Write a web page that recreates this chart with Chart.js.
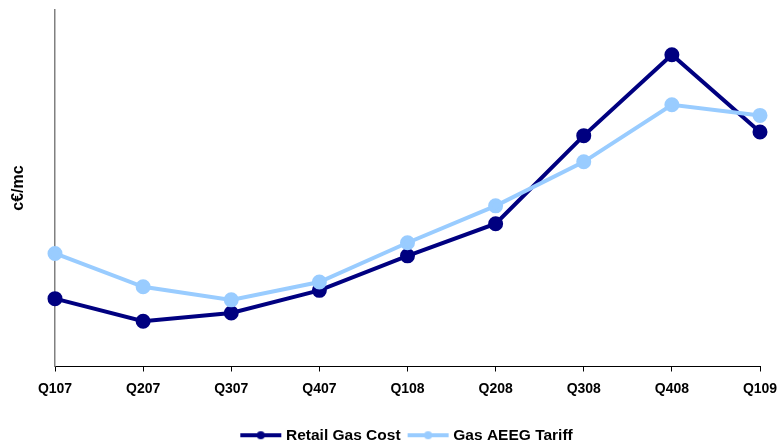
<!DOCTYPE html>
<html>
<head>
<meta charset="utf-8">
<script src="https://cdn.jsdelivr.net/npm/chart.js@4/dist/chart.umd.min.js"></script>
<style>
  html, body { margin: 0; padding: 0; background: #fff; }
  #wrap { width: 780px; height: 443px; }
</style>
</head>
<body>
<div id="wrap"><canvas id="c" width="780" height="443"></canvas></div>
<script>
// Quarterly gas prices, c€/mc
const quarters = ['Q107', 'Q207', 'Q307', 'Q407', 'Q108', 'Q208', 'Q308', 'Q408', 'Q109'];
const retailGasCost = [60.7, 58.8, 59.5, 61.4, 64.3, 67.0, 74.4, 81.2, 74.7];
const gasAeegTariff = [64.5, 61.7, 60.6, 62.1, 65.4, 68.5, 72.2, 77.0, 76.1];
const yMin = 55;
const yMax = 85;

const NAVY = '#000080';
const LIGHT = '#99CCFF';
const FONT = "'Liberation Sans', Arial, sans-serif";

// Legend swatch: a short line with a dot in the middle
function swatch(color) {
  const cv = document.createElement('canvas');
  cv.width = 50; cv.height = 12;
  const g = cv.getContext('2d');
  g.strokeStyle = color; g.lineWidth = 4; g.lineCap = 'butt';
  g.beginPath(); g.moveTo(5, 6); g.lineTo(46, 6); g.stroke();
  g.fillStyle = color;
  g.beginPath(); g.arc(25.5, 6, 4, 0, Math.PI * 2); g.fill();
  return cv;
}
const swatches = [swatch(NAVY), swatch(LIGHT)];

// Center the legend under the plot area rather than the whole canvas
const legendUnderPlot = {
  id: 'legendUnderPlot',
  afterLayout(chart) {
    const lg = chart.legend, ca = chart.chartArea;
    if (!lg || !ca) return;
    lg.left = ca.left;
    lg.right = ca.right;
    lg.width = ca.right - ca.left;
  }
};

new Chart(document.getElementById('c'), {
  type: 'line',
  data: {
    labels: quarters,
    datasets: [
      {
        label: 'Retail Gas Cost',
        data: retailGasCost,
        borderColor: NAVY, backgroundColor: NAVY,
        pointBackgroundColor: NAVY, pointBorderColor: NAVY,
        borderWidth: 4, pointRadius: 5.5, pointHoverRadius: 5.5,
        tension: 0, clip: false, order: 1
      },
      {
        label: 'Gas AEEG Tariff',
        data: gasAeegTariff,
        borderColor: LIGHT, backgroundColor: LIGHT,
        pointBackgroundColor: LIGHT, pointBorderColor: LIGHT,
        borderWidth: 4, pointRadius: 5.5, pointHoverRadius: 5.5,
        tension: 0, clip: false, order: 0
      }
    ]
  },
  plugins: [legendUnderPlot],
  options: {
    responsive: false,
    animation: false,
    devicePixelRatio: 1,
    layout: { padding: { left: 0, right: 20, top: 7, bottom: -10 } },
    plugins: {
      tooltip: { enabled: false },
      legend: {
        position: 'bottom',
        labels: {
          usePointStyle: true,
          pointStyleWidth: 36,
          padding: 9,
          color: '#000',
          font: { family: FONT, size: 15.5, weight: 'bold' },
          sort: (a, b) => a.datasetIndex - b.datasetIndex,
          generateLabels: (chart) => {
            const items = Chart.defaults.plugins.legend.labels.generateLabels(chart);
            items.forEach((it) => { it.pointStyle = swatches[it.datasetIndex]; });
            return items;
          }
        }
      }
    },
    scales: {
      x: {
        offset: false,
        grid: { display: true, drawOnChartArea: false, drawTicks: true, tickLength: 5, color: '#000' },
        border: { display: true, color: '#000', width: 1 },
        ticks: {
          color: '#000', padding: 9, maxRotation: 0, autoSkip: false,
          font: { family: FONT, size: 14, weight: 'bold' }
        },
        afterFit: (s) => { s.height = 52; s.paddingLeft = 0; s.paddingRight = 0; }
      },
      y: {
        min: yMin, max: yMax,
        grid: { display: false },
        border: { display: true, color: '#808080', width: 1.5 },
        ticks: { display: false },
        title: {
          display: true, text: 'c€/mc', color: '#000',
          padding: { top: 9, bottom: 0 },
          font: { family: FONT, size: 16, weight: 'bold' }
        },
        afterFit: (s) => { s.width = 55; }
      }
    }
  }
});
</script>
</body>
</html>
